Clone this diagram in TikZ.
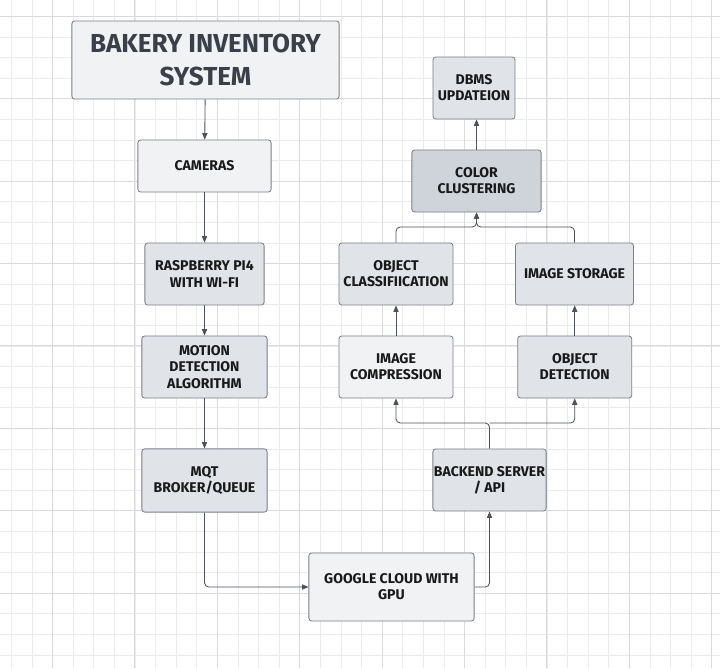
\documentclass[tikz,border=0pt]{standalone}
\usepackage{fontspec}
\setmainfont{Fira Sans}
\usepackage{tikz}
\usetikzlibrary{arrows.meta}

\definecolor{fill_light}{HTML}{F1F2F4}
\definecolor{fill_mid}{HTML}{E0E3E8}
\definecolor{fill_dark}{HTML}{CFD4DB}
\definecolor{edge_gray}{HTML}{7C8088}
\definecolor{line_gray}{HTML}{4E535B}
\definecolor{grid_minor}{HTML}{EBEBEB}
\definecolor{grid_major}{HTML}{DADADA}
\definecolor{title_text}{HTML}{3A3F49}

\begin{document}
\begin{tikzpicture}[x=0.025cm,y=-0.025cm,
    main_node/.style={rectangle,rounded corners=2pt,draw=edge_gray,line width=0.6pt,align=center,
        inner sep=0pt,font=\bfseries\fontsize{10}{11.5}\selectfont,text=black!90},
    light_node/.style={main_node,fill=fill_light},
    mid_node/.style={main_node,fill=fill_mid},
    dark_node/.style={main_node,fill=fill_dark},
    flow/.style={draw=line_gray,line width=0.6pt,rounded corners=3pt,-{Triangle[length=1.6mm,width=1.3mm]}}]
    % background and grid
    \fill[white] (0,0) rectangle (720,668);
    \useasboundingbox (0,0) rectangle (720,668);
    \foreach \i in {0,...,34} {
        \draw[grid_minor,line width=0.5pt] ({11.3+20.6*\i},0) -- ({11.3+20.6*\i},668);
    }
    \foreach \i in {0,...,32} {
        \draw[grid_minor,line width=0.5pt] (0,{16.3+20.6*\i}) -- (720,{16.3+20.6*\i});
    }
    \foreach \i in {0,...,8} {
        \draw[grid_major,line width=0.6pt] ({52.5+82.4*\i},0) -- ({52.5+82.4*\i},668);
    }
    \foreach \i in {0,...,7} {
        \draw[grid_major,line width=0.6pt] (0,{16.3+82.4*\i}) -- (720,{16.3+82.4*\i});
    }
    % nodes
    \node[light_node,minimum width=6.68cm,minimum height=1.95cm,text=title_text,
        font=\bfseries\fontsize{18.5}{22.8}\selectfont] (title) at (205.5,60) {BAKERY INVENTORY\\SYSTEM};
    \node[light_node,minimum width=3.33cm,minimum height=1.3cm] (cameras) at (204.5,166) {CAMERAS};
    \node[mid_node,minimum width=2.98cm,minimum height=1.55cm] (rpi) at (204.5,274) {RASPBERRY PI4\\WITH WI-FI};
    \node[mid_node,minimum width=3.13cm,minimum height=1.55cm] (motion) at (204.5,367) {MOTION\\DETECTION\\ALGORITHM};
    \node[mid_node,minimum width=3.13cm,minimum height=1.58cm] (mqt) at (204.5,480.5) {MQT\\BROKER/QUEUE};
    \node[light_node,minimum width=4.13cm,minimum height=1.7cm] (cloud) at (391.5,587) {GOOGLE CLOUD WITH\\GPU};
    \node[mid_node,minimum width=2.83cm,minimum height=1.55cm] (backend) at (489.5,480) {BACKEND SERVER\\/ API};
    \node[light_node,minimum width=2.85cm,minimum height=1.55cm] (compress) at (396,367) {IMAGE\\COMPRESSION};
    \node[mid_node,minimum width=2.85cm,minimum height=1.55cm] (detect) at (574.7,367) {OBJECT\\DETECTION};
    \node[mid_node,minimum width=2.85cm,minimum height=1.55cm] (classify) at (396,274) {OBJECT\\CLASSIFIICATION};
    \node[mid_node,minimum width=2.95cm,minimum height=1.55cm] (storage) at (574.5,274) {IMAGE STORAGE};
    \node[dark_node,minimum width=3.23cm,minimum height=1.55cm] (cluster) at (476.5,181) {COLOR\\CLUSTERING};
    \node[mid_node,minimum width=2.05cm,minimum height=1.55cm] (dbms) at (474,88) {DBMS\\UPDATEION};
    \coordinate (split) at (489.5,423);
    \coordinate (merge) at (476.5,227);
    % connectors
    \draw[flow] (title) -- (cameras);
    \draw[flow] (cameras) -- (rpi);
    \draw[flow] (rpi) -- (motion);
    \draw[flow] (motion) -- (mqt);
    \draw[flow] (mqt.south) |- (cloud.west);
    \draw[flow] (cloud.east) -| (backend.south);
    \draw[flow] (backend.north) -- (split) -| (compress.south);
    \draw[flow] (split) -| (detect.south);
    \draw[flow] (compress) -- (classify);
    \draw[flow] (detect.north) -- (detect.north |- storage.south);
    \draw[flow] (classify.north) |- (merge) -- (cluster.south);
    \draw[flow] (storage.north) |- (merge) -- (cluster.south);
    \draw[flow] (cluster.north) -- (cluster.north |- dbms.south);
\end{tikzpicture}
\end{document}
